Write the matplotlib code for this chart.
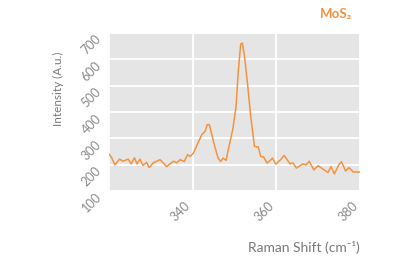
import matplotlib
matplotlib.use("Agg")
import matplotlib.pyplot as plt

# Data
raman_shift = [320.0, 320.6, 321.4, 322.5, 323.4, 324.6, 325.3, 326.1, 326.7, 327.4, 328.1,
               329.0, 329.6, 330.6, 332.2, 333.8, 335.4, 336.2, 337.0, 338.0, 338.8,
               339.4, 340.2, 341.1, 342.2, 343.0, 343.5, 344.0, 344.5, 345.3, 346.1,
               346.7, 347.3, 348.0, 348.7, 349.6, 350.4, 350.9, 351.5, 351.9, 352.4,
               353.1, 353.9, 354.8, 355.7, 356.3, 357.0, 357.8, 358.5, 359.1, 359.9,
               361.0, 361.9, 363.3, 364.0, 364.8, 366.4, 367.1, 367.9,
               369.0, 370.0, 371.2, 372.4, 373.1, 373.9, 375.0, 375.6, 376.6, 377.4,
               378.4, 380.0]
intensity = [240, 228, 199, 221, 213, 221, 203, 226, 203, 221, 197,
             209, 189, 207, 219, 193, 213, 207, 219, 212, 238,
             231, 244, 276, 314, 327, 352, 352, 320, 269, 225,
             212, 225, 216, 269, 333, 422, 550, 658, 662, 613,
             512, 384, 269, 267, 231, 229, 206, 215, 225, 202,
             218, 235, 203, 207, 187, 203, 199, 213,
             180, 196, 183, 170, 193, 165, 200, 211, 176, 189,
             172, 172]

x_ticks = [320, 340, 360, 380]
x_tick_labels = ["", "340", "360", "380"]
y_ticks = [100, 200, 300, 400, 500, 600, 700]
y_tick_labels = ["100", "200", "300", "400", "500", "600", "700"]

title = "MoS\u2082"
x_label = "Raman Shift (cm\u207b\u00b9)"
y_label = "Intensity (A.u.)"

plt.rcParams["font.family"] = ["Lato", "DejaVu Sans"]

fig = plt.figure(figsize=(4.16, 2.66), dpi=100)
ax = fig.add_axes([0.262, 0.282, 0.603, 0.594])
ax.set_facecolor("#e5e5e5")
for s in ax.spines.values():
    s.set_visible(False)

ax.plot(raman_shift, intensity, color="#f5923e", lw=1.1, zorder=3,
        solid_joinstyle="round")

ax.set_xlim(320, 380)
ax.set_ylim(100, 700)
ax.set_xticks(x_ticks)
ax.set_xticklabels(x_tick_labels)
ax.set_yticks(y_ticks)
ax.set_yticklabels(y_tick_labels)
ax.grid(True, color="white", lw=1.3, zorder=1)
ax.set_axisbelow(True)
ax.tick_params(length=0, labelsize=9, labelcolor="#8a8a8a")
ax.tick_params(axis="y", pad=4)
ax.tick_params(axis="x", pad=6)
for lab in ax.get_yticklabels():
    lab.set_rotation(45)
    lab.set_ha("right")
    lab.set_va("top")
for lab in ax.get_xticklabels():
    lab.set_rotation(45)
    lab.set_ha("right")
    lab.set_va("top")

fig.text(0.865, 0.07, x_label, ha="right", va="center", fontsize=10, color="#7a7a7a")
fig.text(0.14, 0.665, y_label, ha="center", va="center", rotation=90, fontsize=8.5, color="#7a7a7a")
fig.text(0.808, 0.948, title, ha="center", va="center", fontsize=9.5, color="#f5923e", fontweight="bold")

fig.savefig("out.png", dpi=100)
